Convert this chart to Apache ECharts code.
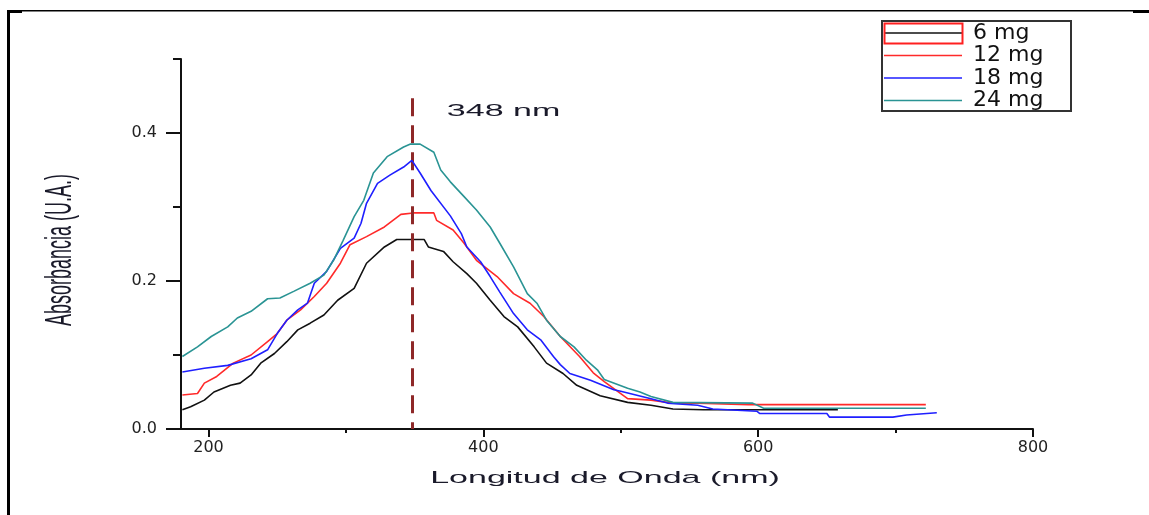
<!DOCTYPE html>
<html><head><meta charset="utf-8">
<script src="https://cdn.jsdelivr.net/npm/echarts@6/dist/echarts.min.js"></script>
<style>html,body{margin:0;padding:0;background:#fff}#c{width:1149px;height:515px}</style>
</head><body><div id="c"></div>
<script>
// ---- data ----
const seriesNames = ['6 mg', '12 mg', '18 mg', '24 mg'];

const wl6  = [181, 187, 197, 204, 216, 223, 231, 238, 248, 257, 265, 274, 284, 294, 306, 315, 328, 337, 349, 357, 360, 371, 378, 388, 395, 405, 415, 425, 437, 446, 458, 468, 485, 505, 522, 538, 560, 600, 658];
const abs6 = [0.026, 0.030, 0.039, 0.050, 0.059, 0.062, 0.073, 0.089, 0.102, 0.118, 0.134, 0.143, 0.154, 0.174, 0.190, 0.224, 0.246, 0.256, 0.256, 0.256, 0.246, 0.240, 0.226, 0.210, 0.197, 0.174, 0.152, 0.138, 0.111, 0.089, 0.075, 0.059, 0.045, 0.036, 0.032, 0.027, 0.026, 0.026, 0.026];

const wl12  = [181, 192, 197, 206, 218, 231, 243, 250, 257, 267, 277, 286, 296, 303, 315, 328, 340, 349, 364, 366, 378, 386, 395, 410, 422, 434, 444, 456, 470, 480, 488, 505, 522, 538, 556, 593, 722];
const abs12 = [0.046, 0.048, 0.062, 0.071, 0.089, 0.100, 0.118, 0.129, 0.147, 0.161, 0.179, 0.197, 0.224, 0.249, 0.260, 0.273, 0.290, 0.292, 0.292, 0.282, 0.269, 0.251, 0.228, 0.206, 0.183, 0.170, 0.152, 0.125, 0.098, 0.076, 0.064, 0.041, 0.039, 0.035, 0.035, 0.033, 0.033];

const wl18  = [181, 197, 214, 231, 243, 250, 257, 265, 272, 277, 286, 296, 306, 311, 315, 323, 332, 342, 348, 354, 362, 376, 384, 388, 398, 405, 412, 422, 432, 442, 451, 456, 463, 478, 495, 500, 522, 534, 556, 567, 599, 601, 650, 652, 698, 708, 730];
const abs18 = [0.077, 0.082, 0.086, 0.095, 0.107, 0.129, 0.147, 0.161, 0.170, 0.197, 0.213, 0.244, 0.258, 0.278, 0.305, 0.332, 0.343, 0.354, 0.363, 0.346, 0.322, 0.288, 0.264, 0.246, 0.226, 0.206, 0.185, 0.156, 0.134, 0.120, 0.098, 0.087, 0.075, 0.066, 0.053, 0.051, 0.041, 0.035, 0.032, 0.027, 0.024, 0.021, 0.021, 0.016, 0.016, 0.019, 0.022];

const wl24  = [181, 192, 202, 214, 221, 231, 243, 252, 262, 274, 284, 291, 298, 306, 313, 320, 330, 342, 347, 354, 364, 369, 376, 386, 395, 405, 412, 422, 432, 439, 446, 456, 466, 475, 483, 488, 505, 514, 522, 538, 596, 604, 722];
const abs24 = [0.098, 0.111, 0.125, 0.138, 0.150, 0.159, 0.176, 0.177, 0.186, 0.197, 0.208, 0.228, 0.255, 0.287, 0.309, 0.346, 0.368, 0.381, 0.385, 0.385, 0.374, 0.350, 0.334, 0.314, 0.296, 0.273, 0.251, 0.219, 0.183, 0.170, 0.147, 0.125, 0.111, 0.093, 0.080, 0.067, 0.055, 0.050, 0.044, 0.036, 0.035, 0.028, 0.028];

const xMajorTicks = [200, 400, 600, 800];
const xMinorTicks = [300, 500, 700];
const yMajorTicks = [0, 0.2, 0.4];
const yMinorTicks = [0.1, 0.3, 0.5];

const peakWavelength = 348;
const peakLineTop = 0.447;
const peakLabel = '348 nm';
const xTitle = 'Longitud de Onda (nm)';
const yTitle = 'Absorbancia (U.A.)';

// ---- build ----
const colors = ['#111111', '#ff2a2a', '#1f1fff', '#2a9494'];
const wls = [wl6, wl12, wl18, wl24];
const absList = [abs6, abs12, abs18, abs24];
const zip = (a, b) => a.map((v, i) => [v, b[i]]);

const chart = echarts.init(document.getElementById('c'));

const series = seriesNames.map((name, i) => ({
  name: name,
  type: 'line',
  data: zip(wls[i], absList[i]),
  symbol: 'none',
  showSymbol: false,
  smooth: false,
  lineStyle: { color: colors[i], width: 1.6 },
  itemStyle: { color: colors[i] },
  z: 3 + i,
  silent: true
}));
series[0].markLine = {
  silent: true,
  symbol: 'none',
  label: { show: false },
  lineStyle: { color: '#8e2828', width: 3, type: [18, 9] },
  data: [[{ coord: [peakWavelength, peakLineTop] }, { coord: [peakWavelength, 0] }]]
};

const axisTextStyle = { color: '#222', fontFamily: 'DejaVu Sans', fontSize: 16 };

const option = {
  animation: false,
  backgroundColor: '#fff',
  grid: { left: 181, right: 116, top: 59, bottom: 86, containLabel: false },
  xAxis: [
    {
      type: 'value', min: 180, max: 800,
      axisLine: { show: true, onZero: false, lineStyle: { color: '#111', width: 2 } },
      axisTick: { show: true, customValues: xMajorTicks, length: 8, lineStyle: { color: '#111', width: 2 } },
      axisLabel: { show: true, customValues: xMajorTicks, margin: 11, ...axisTextStyle },
      splitLine: { show: false }
    },
    {
      type: 'value', min: 180, max: 800, position: 'bottom',
      axisLine: { show: false },
      axisTick: { show: true, customValues: xMinorTicks, length: 4, lineStyle: { color: '#111', width: 2 } },
      axisLabel: { show: false },
      splitLine: { show: false }
    }
  ],
  yAxis: [
    {
      type: 'value', min: 0, max: 0.5,
      axisLine: { show: true, onZero: false, lineStyle: { color: '#111', width: 2 } },
      axisTick: { show: true, customValues: yMajorTicks, length: 15, lineStyle: { color: '#111', width: 2 } },
      axisLabel: { show: true, customValues: yMajorTicks, margin: 24, formatter: v => v.toFixed(1), ...axisTextStyle },
      splitLine: { show: false }
    },
    {
      type: 'value', min: 0, max: 0.5, position: 'left',
      axisLine: { show: false },
      axisTick: { show: true, customValues: yMinorTicks, length: 8, lineStyle: { color: '#111', width: 2 } },
      axisLabel: { show: false },
      splitLine: { show: false }
    }
  ],
  legend: {
    orient: 'vertical',
    left: 884, top: 22,
    padding: 0,
    icon: 'rect',
    itemWidth: 78, itemHeight: 1.6, itemGap: 0.5,
    selectedMode: false,
    data: seriesNames,
    textStyle: { color: '#111', fontFamily: 'DejaVu Sans', fontSize: 22, lineHeight: 22, padding: [0, 0, 0, 6] }
  },
  series: series
};
chart.setOption(option);

const p = chart.convertToPixel({ xAxisIndex: 0, yAxisIndex: 0 }, [peakWavelength, peakLineTop]);

chart.setOption({
  graphic: [
    // page frame
    { type: 'rect', shape: { x: 7, y: 10, width: 3, height: 505 }, style: { fill: '#000' }, silent: true },
    { type: 'rect', shape: { x: 7, y: 10, width: 1142, height: 1.5 }, style: { fill: '#000' }, silent: true },
    { type: 'rect', shape: { x: 7, y: 10, width: 15, height: 3 }, style: { fill: '#000' }, silent: true },
    { type: 'rect', shape: { x: 1133, y: 10, width: 16, height: 3 }, style: { fill: '#000' }, silent: true },
    // legend frame
    { type: 'rect', shape: { x: 882, y: 21, width: 189, height: 90 }, style: { fill: 'none', stroke: '#333', lineWidth: 2 }, silent: true, z: 10 },
    { type: 'rect', shape: { x: 884.5, y: 23.5, width: 78, height: 20 }, style: { fill: 'none', stroke: '#ff2020', lineWidth: 2 }, silent: true, z: 10 },
    // titles
    { type: 'text', x: 605, y: 478, scaleX: 2, silent: true,
      style: { text: xTitle, fontFamily: 'Liberation Sans', fontSize: 17, fill: '#1a1a2a', align: 'center', verticalAlign: 'middle' } },
    { type: 'text', x: 61, y: 250, rotation: Math.PI / 2, scaleY: 2, silent: true,
      style: { text: yTitle, fontFamily: 'Liberation Sans', fontSize: 18, fill: '#1a1a2a', align: 'center', verticalAlign: 'middle' } },
    { type: 'text', x: p[0] + 35, y: p[1] + 13, scaleX: 2, silent: true,
      style: { text: peakLabel, fontFamily: 'Liberation Sans', fontSize: 17, fill: '#1a1a2a', align: 'left', verticalAlign: 'middle' } }
  ]
});
</script>
</body></html>
